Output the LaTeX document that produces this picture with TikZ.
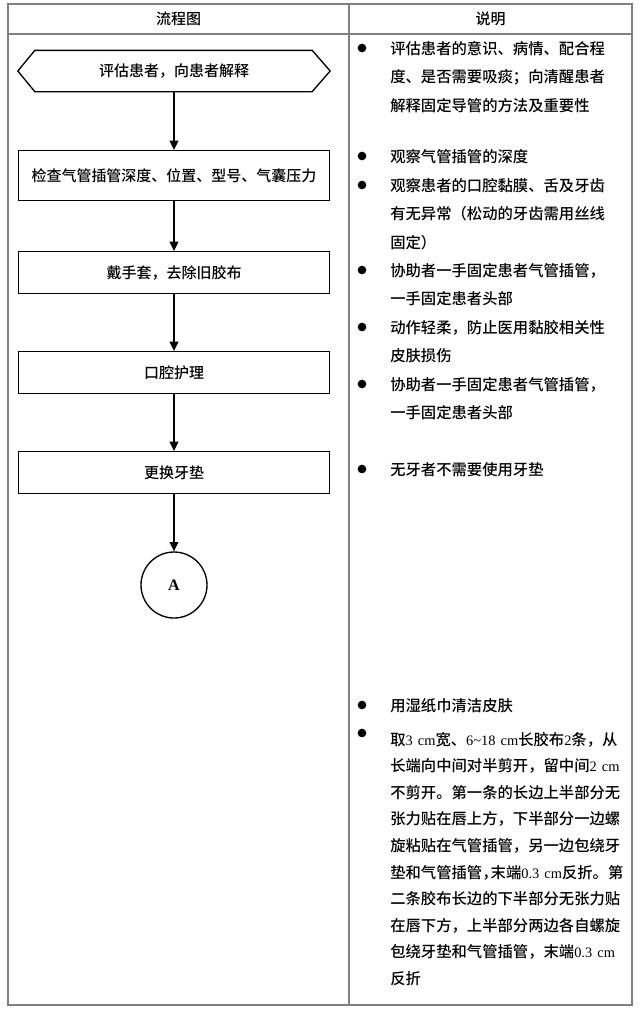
\documentclass[tikz,border=0pt]{standalone}
\usepackage{fontspec}
\setmainfont{Noto Sans CJK SC Medium}
\newfontfamily\lat{Liberation Serif}
\usetikzlibrary{arrows.meta,calc}
\definecolor{tabline}{RGB}{128,128,128}
\newcommand\rtext{\fontsize{11.5pt}{21.4pt}\selectfont}
\newcommand\ptext{\fontsize{11.5pt}{19.95pt}\selectfont}
\newcommand\latn[1]{{\lat\fontsize{10.8pt}{19.95pt}\selectfont #1}}
\newcommand\halfcomma{\makebox[0.55em][l]{，}}
\begin{document}
\begin{tikzpicture}[x=0.75pt,y=-0.75pt,
  flowbox/.style={draw, line width=1pt, minimum width=233.25pt, inner sep=0pt, font=\fontsize{11.25pt}{13pt}\selectfont},
  flowarrow/.style={line width=1pt, -{Triangle[length=7pt,width=6.5pt]}},
  bulletdot/.style={circle, fill=black, inner sep=0pt, minimum size=6.5pt},
  desc/.style={anchor=base west, inner sep=0pt, align=left, text width=200pt},
  head/.style={font=\fontsize{11.25pt}{13pt}\selectfont},
  tab/.style={draw=tabline, line width=0.9pt}
]
\useasboundingbox (0,0) rectangle (641,1015);
\fill[white] (0,0) rectangle (641,1015);
% table
\draw[tab] (8,4) rectangle (632,1005);
\draw[tab] (8,34) -- (632,34);
\draw[tab] (349,4) -- (349,1005);
\node[head] (h1) at (178.5,19) {流程图};
\node[head] (h2) at (490.5,19) {说明};
% flow chart
\node[flowbox, draw=none, minimum height=30pt] (hex) at (174,71) {评估患者，向患者解释};
\draw[line width=1pt, line join=miter] (hex.west) -- ($(hex.north west)+(17,0)$) -- ($(hex.north east)+(-18,0)$) -- (hex.east) -- ($(hex.south east)+(-18,0)$) -- ($(hex.south west)+(17,0)$) -- cycle;
\node[flowbox, minimum height=37.5pt] (b2) at (174,175.7) {检查气管插管深度、位置、型号、气囊压力};
\node[flowbox, minimum height=31.2pt] (b3) at (174,272.5) {戴手套，去除旧胶布};
\node[flowbox, minimum height=31.2pt] (b4) at (174,372.5) {口腔护理};
\node[flowbox, minimum height=31.2pt] (b5) at (174,472.5) {更换牙垫};
\node[circle, draw, line width=1pt, minimum size=49.5pt, inner sep=0pt, font=\lat\bfseries\fontsize{12pt}{14pt}\selectfont] (c) at (174,585) {A};
\draw[flowarrow] (hex.south) -- (b2.north);
\draw[flowarrow] (b2.south) -- (b3.north);
\draw[flowarrow] (b3.south) -- (b4.north);
\draw[flowarrow] (b4.south) -- (b5.north);
\draw[flowarrow] (b5.south) -- (c.north);
% description column
\node[bulletdot] (d1) at (362,48) {};
\node[desc, font=\rtext] (t1) at (390,54) {评估患者的意识、病情、配合程\\度、是否需要吸痰；向清醒患者\\解释固定导管的方法及重要性};
\node[bulletdot] (d2) at (362,156) {};
\node[desc, font=\rtext] (t2) at (390,162) {观察气管插管的深度};
\node[bulletdot] (d3) at (362,185) {};
\node[desc, font=\rtext] (t3) at (390,191) {观察患者的口腔黏膜、舌及牙齿\\有无异常（松动的牙齿需用丝线\\固定）};
\node[bulletdot] (d4) at (362,270) {};
\node[desc, font=\rtext] (t4) at (390,276) {协助者一手固定患者气管插管，\\一手固定患者头部};
\node[bulletdot] (d5) at (362,327) {};
\node[desc, font=\rtext] (t5) at (390,333) {动作轻柔，防止医用黏胶相关性\\皮肤损伤};
\node[bulletdot] (d6) at (362,384) {};
\node[desc, font=\rtext] (t6) at (390,390) {协助者一手固定患者气管插管，\\一手固定患者头部};
\node[bulletdot] (d7) at (362,469) {};
\node[desc, font=\rtext] (t7) at (390,475) {无牙者不需要使用牙垫};
\node[bulletdot] (d8) at (362,705) {};
\node[desc, font=\rtext] (t8) at (390,711) {用湿纸巾清洁皮肤};
\node[bulletdot] (d9) at (362,733) {};
\node[desc, font=\ptext] (t9) at (390,745) {取\latn{3 cm}宽、\latn{6\textasciitilde18 cm}长胶布\latn{2}条，从\\长端向中间对半剪开，留中间\latn{2 cm}\\不剪开。第一条的长边上半部分无\\张力贴在唇上方，下半部分一边螺\\旋粘贴在气管插管，另一边包绕牙\\垫和气管插管\halfcomma 末端\latn{0.3 cm}反折。第\\二条胶布长边的下半部分无张力贴\\在唇下方，上半部分两边各自螺旋\\包绕牙垫和气管插管，末端\latn{0.3 cm}\\反折};
\end{tikzpicture}
\end{document}
